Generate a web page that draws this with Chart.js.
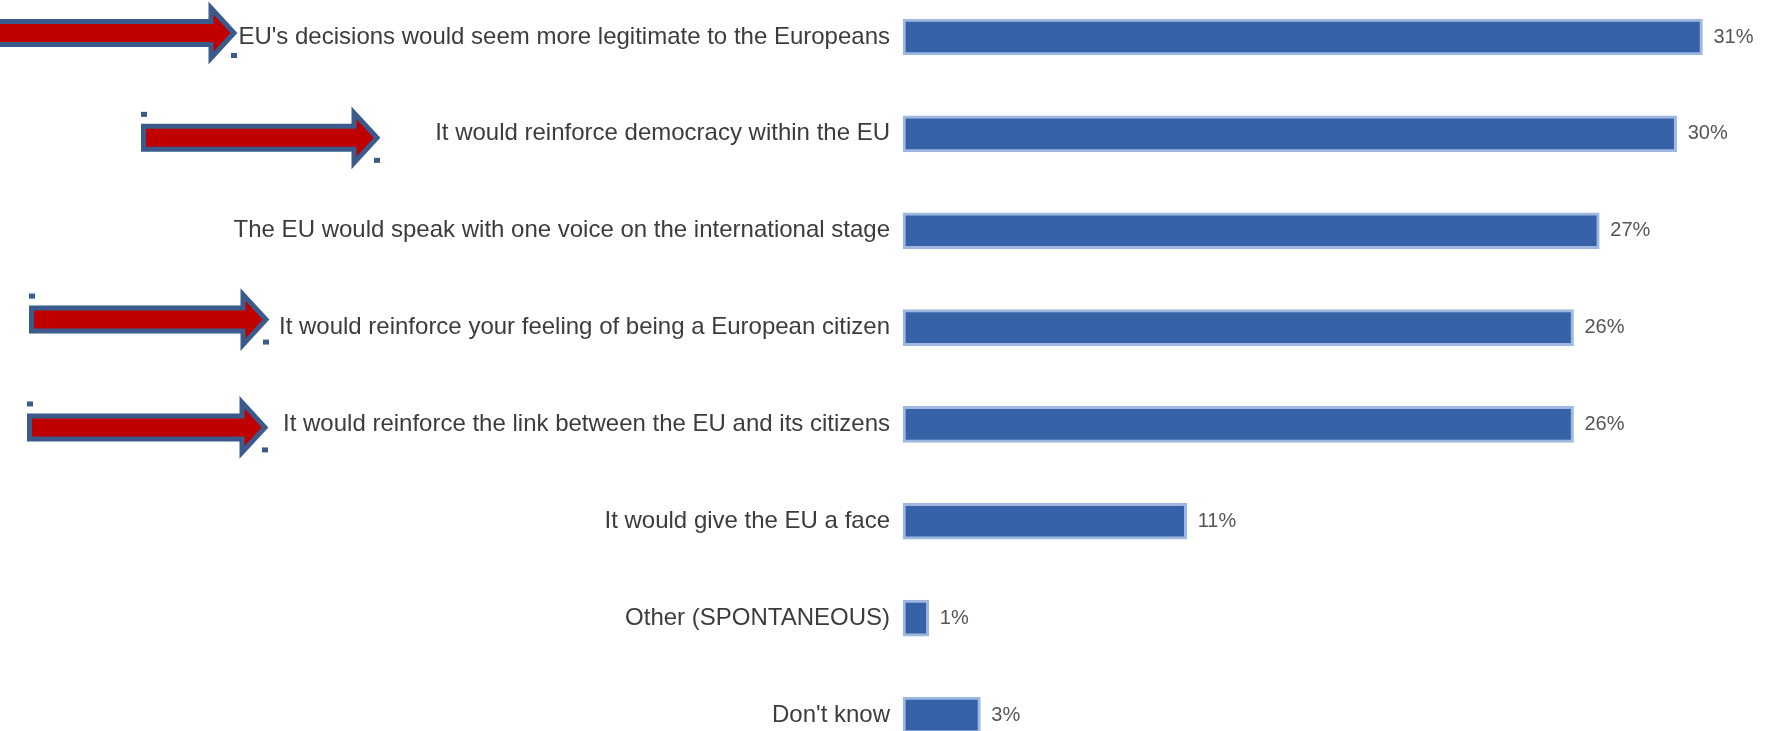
<!DOCTYPE html>
<html>
<head>
<meta charset="utf-8">
<script src="https://cdn.jsdelivr.net/npm/chart.js@4"></script>
<style>
  html, body { margin: 0; padding: 0; background: #fff; }
  #wrap { width: 1766px; height: 731px; }
</style>
</head>
<body>
<div id="wrap"><canvas id="chart"></canvas></div>
<script>
const categories = [
    "EU's decisions would seem more legitimate to the Europeans",
    'It would reinforce democracy within the EU',
    'The EU would speak with one voice on the international stage',
    'It would reinforce your feeling of being a European citizen',
    'It would reinforce the link between the EU and its citizens',
    'It would give the EU a face',
    'Other (SPONTANEOUS)',
    "Don't know"
];
const shares = [31, 30, 27, 26, 26, 11, 1, 3];

// red arrows pointing at some of the answers (row, left x, tip x, shift y)
const arrowRows = [0, 1, 3, 4];
const arrowLeft = [-10, 141, 29, 27];
const arrowTip = [237, 380, 269, 268];
const arrowShift = [-4, 4, -8, 3];

const valueLabels = {
    id: 'valueLabels',
    afterDatasetsDraw(chart) {
        const ctx = chart.ctx;
        const meta = chart.getDatasetMeta(0);
        ctx.save();
        ctx.font = '20px "Liberation Sans", Arial, sans-serif';
        ctx.fillStyle = '#555555';
        ctx.textAlign = 'left';
        ctx.textBaseline = 'middle';
        meta.data.forEach((bar, i) => {
            ctx.fillText(shares[i] + '%', bar.x + 11, bar.y);
        });
        ctx.restore();
    }
};

const arrows = {
    id: 'arrows',
    afterDraw(chart) {
        const ctx = chart.ctx;
        const y = chart.scales.y;
        ctx.save();
        arrowRows.forEach((row, i) => {
            const cy = y.getPixelForValue(row) + arrowShift[i];
            const x0 = arrowLeft[i];
            const tip = arrowTip[i];
            const base = tip - 26;
            ctx.beginPath();
            ctx.moveTo(x0 + 2.5, cy - 11.5);
            ctx.lineTo(base, cy - 11.5);
            ctx.lineTo(base, cy - 25);
            ctx.lineTo(tip - 3, cy);
            ctx.lineTo(base, cy + 25);
            ctx.lineTo(base, cy + 11.5);
            ctx.lineTo(x0 + 2.5, cy + 11.5);
            ctx.closePath();
            ctx.fillStyle = '#c00000';
            ctx.fill();
            ctx.lineWidth = 5;
            ctx.lineJoin = 'miter';
            ctx.strokeStyle = '#3b5b8c';
            ctx.stroke();
            // selection handles
            ctx.fillStyle = '#3b5b8c';
            ctx.fillRect(x0, cy - 26, 6, 5);
            ctx.fillRect(tip - 6, cy + 20, 6, 5);
        });
        ctx.restore();
    }
};

new Chart(document.getElementById('chart'), {
    type: 'bar',
    data: {
        labels: categories,
        datasets: [{
            data: shares,
            backgroundColor: '#3762a8',
            borderColor: '#9fb8df',
            borderWidth: 3,
            borderSkipped: false,
            barThickness: 36,
            clip: false
        }]
    },
    options: {
        indexAxis: 'y',
        responsive: true,
        maintainAspectRatio: false,
        animation: false,
        layout: {
            padding: { top: 37, bottom: 16, left: 0, right: 12 }
        },
        plugins: {
            legend: { display: false },
            tooltip: { enabled: false }
        },
        scales: {
            x: {
                display: false,
                min: 0,
                max: 33
            },
            y: {
                offset: false,
                afterFit(scale) {
                    scale.width = 903;
                    scale.paddingTop = 0;
                    scale.paddingBottom = 0;
                },
                grid: { display: false, drawTicks: false },
                border: { display: false },
                ticks: {
                    padding: 13,
                    color: '#3c3c3c',
                    font: { family: '"Liberation Sans", Arial, sans-serif', size: 24 }
                }
            }
        }
    },
    plugins: [valueLabels, arrows]
});
</script>
</body>
</html>
